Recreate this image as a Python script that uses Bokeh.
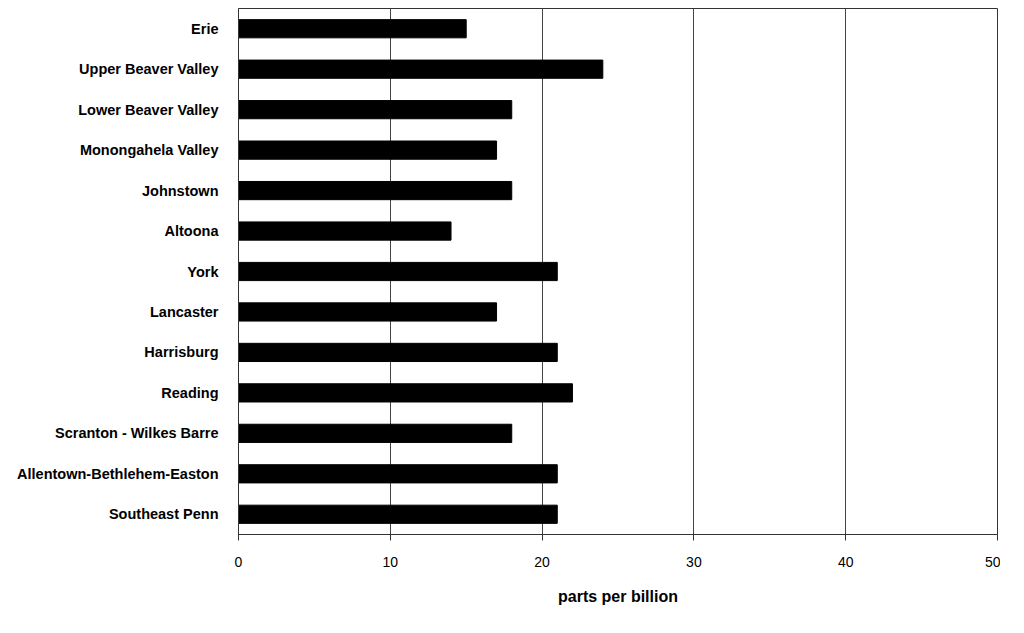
from bokeh.plotting import figure
from bokeh.models import FactorRange, Range1d, FixedTicker
from bokeh.embed import file_html
from bokeh.resources import INLINE

regions = ["Erie", "Upper Beaver Valley", "Lower Beaver Valley", "Monongahela Valley",
           "Johnstown", "Altoona", "York", "Lancaster", "Harrisburg", "Reading",
           "Scranton - Wilkes Barre", "Allentown-Bethlehem-Easton", "Southeast Penn"]
values = [15, 24, 18, 17, 18, 14, 21, 17, 21, 22, 18, 21, 21]
x_ticks = [0, 10, 20, 30, 40, 50]

p = figure(width=1000, height=607, output_backend="svg", toolbar_location=None,
           y_range=FactorRange(factors=list(reversed(regions)), range_padding=0),
           x_range=Range1d(0, 50),
           min_border_left=238, min_border_top=8, min_border_right=3, min_border_bottom=0)

p.hbar(y=regions, right=values, left=0, height=0.45, fill_color="black", line_color="black")

p.outline_line_color = "#333333"
p.outline_line_width = 1
p.background_fill_color = "white"
p.border_fill_color = "white"

p.xgrid.ticker = FixedTicker(ticks=x_ticks)
p.xgrid.grid_line_color = "#444444"
p.xgrid.grid_line_width = 1
p.ygrid.grid_line_color = None

xa = p.xaxis[0]
xa.ticker = FixedTicker(ticks=x_ticks)
xa.axis_label = "parts per billion"
xa.axis_label_text_font = "Liberation Sans"
xa.axis_label_text_font_style = "bold"
xa.axis_label_text_font_size = "16px"
xa.axis_label_text_color = "black"
xa.axis_label_standoff = 18
xa.major_label_text_font = "Liberation Sans"
xa.major_label_text_font_size = "14px"
xa.major_label_text_color = "black"
xa.major_label_standoff = 16
xa.major_tick_out = 6
xa.major_tick_in = 0
xa.minor_tick_line_color = None
xa.axis_line_color = "#333333"
xa.major_tick_line_color = "#333333"

ya = p.yaxis[0]
ya.major_label_text_font = "Liberation Sans"
ya.major_label_text_font_style = "bold"
ya.major_label_text_font_size = "14.5px"
ya.major_label_text_color = "black"
ya.major_tick_line_color = None
ya.major_label_standoff = 14
ya.axis_line_color = "#333333"

open("out.html", "w").write(file_html(p, INLINE))
